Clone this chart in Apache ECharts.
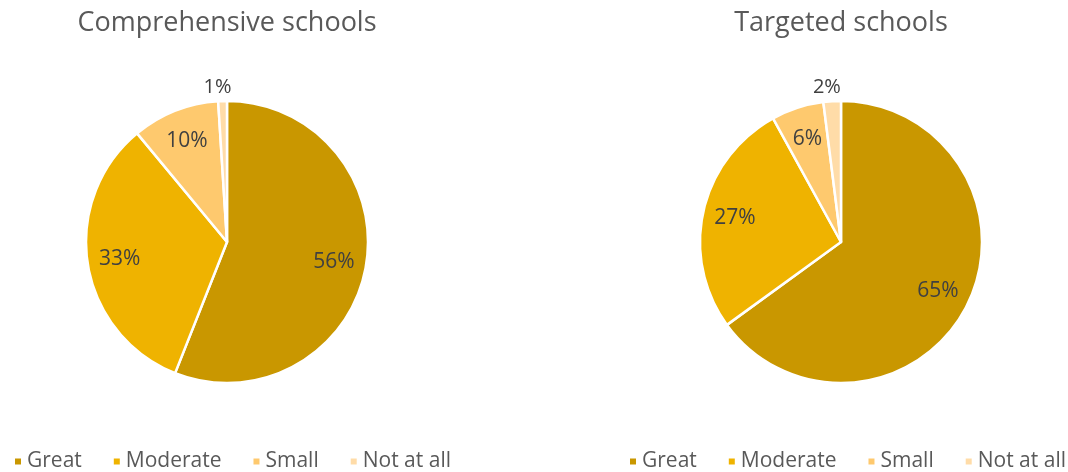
<!DOCTYPE html>
<html>
<head>
<meta charset="utf-8">
<script src="https://cdn.jsdelivr.net/npm/echarts@6/dist/echarts.min.js"></script>
<style>
  html, body { margin: 0; padding: 0; background: #ffffff; }
  #chart { width: 1068px; height: 472px; }
</style>
</head>
<body>
<div id="chart"></div>
<script>
// Degree of impact, share of schools (%)
const categories = ['Great', 'Moderate', 'Small', 'Not at all'];
const comprehensiveValues = [56, 33, 10, 1];
const targetedValues = [65, 27, 6, 2];
const titles = ['Comprehensive schools', 'Targeted schools'];
const colors = ['#C99700', '#EFB300', '#FEC96E', '#FFDCA8'];

const FONT = '"Open Sans", "Noto Sans", sans-serif';
const TEXT = '#404040';
const R = 141;
const SMALL = 3; // slices below this share get their label outside

const centers = [[227, 242], [841, 242]];

function pieData(values, mode) {
  return values.map((v, i) => {
    const outside = v < SMALL;
    const item = { name: categories[i], value: v };
    if (mode === 'outer') item.label = { show: outside };
    if (mode === 'inner') item.label = { show: !outside };
    return item;
  });
}

const seriesValues = [comprehensiveValues, targetedValues];
const series = [];
seriesValues.forEach((vals, k) => {
  // the slices themselves, with labels for the tiny ones placed outside
  series.push({
    type: 'pie',
    center: centers[k],
    radius: [0, R],
    startAngle: 90,
    clockwise: true,
    data: pieData(vals, 'outer'),
    itemStyle: { borderColor: '#ffffff', borderWidth: 2.5 },
    label: {
      position: 'outside',
      formatter: '{c}%',
      fontFamily: FONT, fontSize: 20, color: TEXT
    },
    labelLine: { show: false, length: 4, length2: 0 },
    labelLayout: { align: 'center', verticalAlign: 'bottom' },
    emphasis: { disabled: true },
    silent: true
  });
  // transparent copy whose mid-radius carries the inner labels
  series.push({
    type: 'pie',
    center: centers[k],
    radius: [0, R * 1.5],
    startAngle: 90,
    clockwise: true,
    data: pieData(vals, 'inner'),
    itemStyle: { color: 'rgba(0,0,0,0)' },
    label: {
      position: 'inside',
      formatter: '{c}%',
      fontFamily: FONT, fontSize: 21, color: TEXT
    },
    emphasis: { disabled: true },
    silent: true,
    legendHoverLink: false
  });
});

const legendBase = {
  data: categories,
  top: 446,
  width: 470,
  icon: 'rect',
  itemWidth: 8, itemHeight: 8,
  itemGap: 30,
  textStyle: { fontFamily: FONT, fontSize: 21, color: '#595959', padding: [4, 0, 0, 0] },
  selectedMode: false
};

const chart = echarts.init(document.getElementById('chart'), null, { renderer: 'canvas' });
chart.setOption({
  color: colors,
  animation: false,
  title: titles.map((t, k) => ({
    text: t,
    left: centers[k][0] - 5,
    top: 5,
    textAlign: 'center',
    textStyle: { fontFamily: FONT, fontSize: 27, fontWeight: 'normal', color: '#595959' }
  })),
  legend: [
    Object.assign({}, legendBase, { left: 8 }),
    Object.assign({}, legendBase, { left: 623 })
  ],
  series: series
});
</script>
</body>
</html>
